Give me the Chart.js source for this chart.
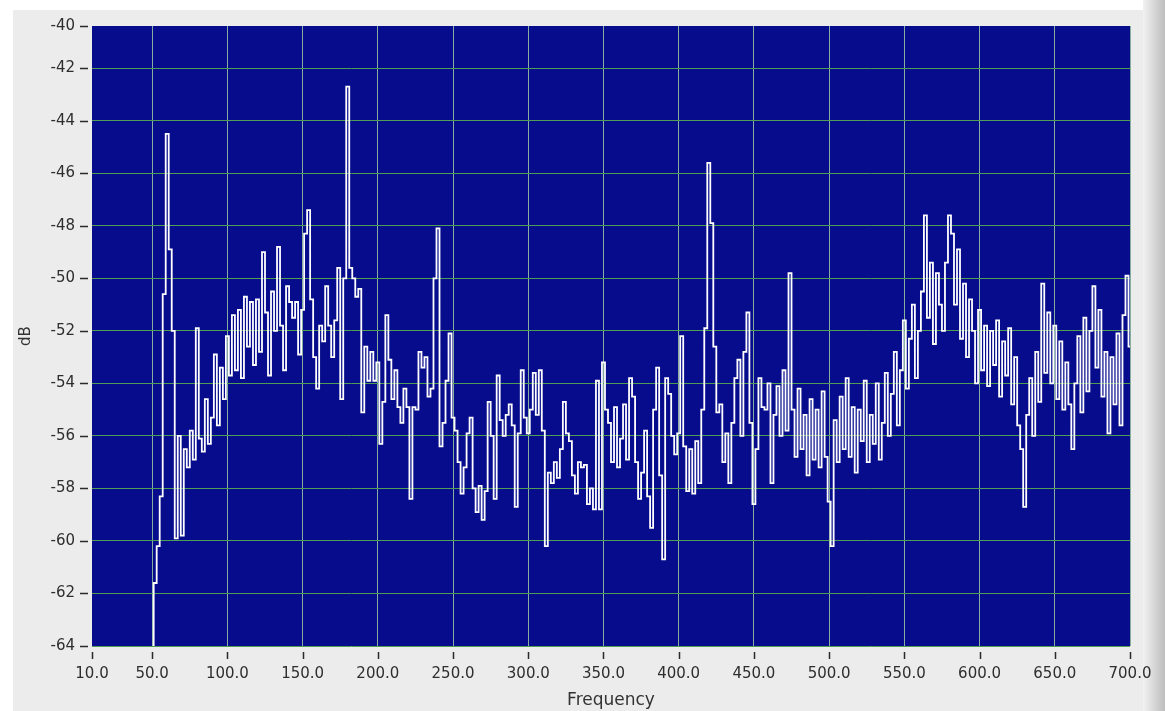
<!DOCTYPE html>
<html>
<head>
<meta charset="utf-8">
<script src="https://cdn.jsdelivr.net/npm/chart.js@4.4.1/dist/chart.umd.min.js"></script>
<style>
html,body{margin:0;padding:0;background:#ececec;overflow:hidden}
#wrap{position:relative;width:1165px;height:711px}
canvas{display:block}
</style>
</head>
<body>
<div id="wrap"><canvas id="c" width="1165" height="711"></canvas></div>
<script>
// Spectrum bins: first bin frequency and bin spacing (Hz)
const binStartHz = 50;
const binWidthHz = 2;

// Magnitude in dB, one value per bin, grouped in 100 Hz bands
const dB_50_98 = [
  -66.0, -61.6, -60.2, -58.3, -50.6, -44.5, -48.9, -52.0, -59.9, -56.0,
  -59.8, -56.5, -57.2, -55.8, -56.9, -51.9, -56.1, -56.6, -54.6, -56.3,
  -55.3, -52.9, -55.6, -53.4, -54.6
];
const dB_100_198 = [
  -52.2, -53.7, -51.4, -53.5, -51.2, -53.8, -50.7, -52.6, -50.9, -53.3,
  -50.8, -52.8, -49.0, -51.3, -53.7, -50.5, -52.0, -48.8, -51.8, -53.5,
  -50.3, -50.9, -51.5, -50.9, -52.9, -51.2, -48.3, -47.4, -50.8, -53.0,
  -54.2, -51.8, -52.4, -50.3, -51.8, -53.0, -51.6, -49.6, -54.6, -50.0,
  -42.7, -49.6, -50.0, -50.7, -50.4, -55.1, -52.6, -53.9, -52.8, -53.9
];
const dB_200_298 = [
  -53.2, -56.3, -54.7, -51.4, -53.1, -54.6, -53.5, -54.9, -55.5, -54.2,
  -54.9, -58.4, -54.9, -55.0, -52.8, -53.4, -53.0, -54.5, -54.2, -50.0,
  -48.1, -56.4, -55.5, -53.9, -52.1, -55.3, -55.8, -57.0, -58.2, -57.2,
  -55.9, -55.3, -58.0, -58.9, -57.9, -59.2, -58.1, -54.7, -56.0, -58.4,
  -53.7, -55.4, -56.0, -55.2, -54.8, -55.6, -58.7, -55.9, -53.5, -55.3
];
const dB_300_398 = [
  -55.9, -55.0, -53.6, -55.2, -53.5, -55.8, -60.2, -57.4, -57.8, -57.0,
  -57.6, -56.5, -54.7, -55.9, -56.2, -57.5, -58.2, -57.0, -57.2, -57.1,
  -58.6, -58.0, -58.8, -53.9, -58.8, -53.2, -55.0, -55.5, -57.0, -54.9,
  -57.2, -56.1, -54.8, -56.9, -53.8, -54.5, -57.0, -58.4, -57.4, -55.8,
  -58.3, -59.5, -55.0, -53.4, -57.5, -60.7, -53.8, -54.4, -56.0, -56.7
];
const dB_400_498 = [
  -55.9, -52.2, -56.4, -58.1, -56.5, -58.2, -56.2, -57.8, -55.0, -51.9,
  -45.6, -47.9, -52.6, -55.1, -54.8, -57.0, -55.9, -57.8, -55.5, -53.8,
  -53.1, -56.0, -52.8, -51.3, -55.5, -58.6, -56.5, -53.8, -54.9, -55.0,
  -54.0, -57.8, -55.2, -54.1, -56.0, -53.5, -55.8, -49.8, -55.0, -56.8,
  -54.2, -56.5, -55.2, -57.5, -54.6, -56.9, -55.0, -57.2, -54.3, -56.8
];
const dB_500_598 = [
  -58.5, -60.2, -55.4, -57.0, -54.5, -56.5, -53.8, -56.8, -54.9, -57.4,
  -55.0, -56.2, -53.9, -57.0, -55.2, -56.3, -54.0, -56.9, -55.5, -53.6,
  -56.0, -54.4, -52.8, -55.6, -53.5, -51.6, -54.2, -52.3, -51.0, -53.8,
  -52.0, -50.5, -47.6, -51.5, -49.4, -52.5, -49.8, -51.0, -52.0, -49.4,
  -47.6, -48.3, -51.0, -48.9, -52.3, -50.2, -53.0, -50.8, -52.0, -54.0
];
const dB_600_700 = [
  -51.2, -53.5, -51.8, -54.1, -52.0, -53.3, -51.6, -54.5, -52.4, -53.7,
  -51.9, -54.8, -53.0, -55.6, -56.5, -58.7, -55.2, -53.8, -56.0, -52.8,
  -54.7, -50.2, -53.6, -51.3, -54.0, -51.8, -54.6, -52.4, -55.0, -53.2,
  -54.8, -56.5, -54.0, -52.2, -55.1, -51.5, -54.3, -52.0, -50.3, -53.4,
  -51.2, -54.5, -52.8, -55.9, -53.0, -54.8, -52.1, -55.6, -51.4, -49.9,
  -52.6
];

// Axis ticks
const xTickValues = [10, 50, 100, 150, 200, 250, 300, 350, 400, 450, 500, 550, 600, 650, 700];
const yTickValues = [-64, -62, -60, -58, -56, -54, -52, -50, -48, -46, -44, -42];
const yAxisTop = -40.39;      // upper end of the dB scale
const yTopLabel = '-40';

const magnitudes = [].concat(dB_50_98, dB_100_198, dB_200_298, dB_300_398,
                             dB_400_498, dB_500_598, dB_600_700);
const points = magnitudes.map((v, i) => ({ x: binStartHz + i * binWidthHz, y: v }));

const PLOT_BG = '#070c8c';
const H_GRID = '#4f9c55';
const V_GRID = '#86ae9e';
const TEXT = '#2e2e2e';

// Window panel and plot background
const panelPlugin = {
  id: 'panel',
  beforeDraw(chart) {
    const { ctx, width, height, chartArea: a } = chart;
    ctx.save();
    ctx.fillStyle = '#ececec';
    ctx.fillRect(0, 0, width, height);
    ctx.fillStyle = '#ffffff';
    ctx.fillRect(0, 0, width, 10);
    ctx.fillRect(0, 0, 13, height);
    const g = ctx.createLinearGradient(1143, 0, width, 0);
    g.addColorStop(0, '#f2f2f2');
    g.addColorStop(1, '#bdbdbd');
    ctx.fillStyle = g;
    ctx.fillRect(1143, 0, width - 1143, height);
    ctx.fillStyle = PLOT_BG;
    ctx.fillRect(a.left, a.top, a.right - a.left, a.bottom - a.top);
    ctx.restore();
  },
  afterDraw(chart) {
    // detached tick marks next to the plot frame
    const { ctx, chartArea: a, scales } = chart;
    ctx.save();
    ctx.strokeStyle = '#2a2a2a';
    ctx.lineWidth = 1.5;
    scales.y.ticks.forEach(t => {
      const y = Math.round(scales.y.getPixelForValue(t.value)) + 0.5;
      ctx.beginPath();
      ctx.moveTo(a.left - 12, y);
      ctx.lineTo(a.left - 4, y);
      ctx.stroke();
    });
    scales.x.ticks.forEach(t => {
      const x = Math.round(scales.x.getPixelForValue(t.value)) + 0.5;
      ctx.beginPath();
      ctx.moveTo(x, a.bottom + 6);
      ctx.lineTo(x, a.bottom + 13);
      ctx.stroke();
    });
    ctx.restore();
  }
};

new Chart(document.getElementById('c'), {
  type: 'line',
  data: {
    datasets: [{
      data: points,
      borderColor: '#ffffff',
      borderWidth: 1.8,
      stepped: 'middle',
      pointRadius: 0,
      fill: false
    }]
  },
  options: {
    responsive: false,
    animation: false,
    devicePixelRatio: 1,
    layout: { padding: { top: 26, right: 35, left: 0, bottom: 0 } },
    plugins: { legend: { display: false }, tooltip: { enabled: false } },
    scales: {
      x: {
        type: 'linear',
        min: 10,
        max: 700,
        afterBuildTicks: s => { s.ticks = xTickValues.map(v => ({ value: v })); },
        afterFit: s => { s.height = 65; s.paddingLeft = 0; s.paddingRight = 0; },
        border: { display: false },
        grid: {
          drawTicks: false,
          lineWidth: 1,
          color: c => (c.tick && c.tick.value === 10) ? 'rgba(0,0,0,0)' : V_GRID
        },
        ticks: {
          autoSkip: false,
          maxRotation: 0,
          padding: 19,
          color: TEXT,
          font: { family: 'DejaVu Sans', size: 15 },
          callback: v => Number(v).toFixed(1)
        },
        title: {
          display: true,
          text: 'Frequency',
          color: '#333333',
          font: { family: 'DejaVu Sans', size: 17 },
          padding: { top: 0, bottom: 0 }
        }
      },
      y: {
        type: 'linear',
        min: -64,
        max: yAxisTop,
        afterBuildTicks: s => {
          s.ticks = yTickValues.map(v => ({ value: v })).concat([{ value: yAxisTop }]);
        },
        afterFit: s => { s.width = 92; s.paddingTop = 0; s.paddingBottom = 0; },
        border: { display: false },
        grid: {
          drawTicks: false,
          lineWidth: 1,
          color: c => (c.tick && c.tick.value === yAxisTop) ? 'rgba(0,0,0,0)' : H_GRID
        },
        ticks: {
          autoSkip: false,
          padding: 17,
          color: TEXT,
          font: { family: 'DejaVu Sans', size: 15 },
          callback: v => (v === yAxisTop ? yTopLabel : String(v))
        },
        title: {
          display: true,
          text: 'dB',
          color: '#333333',
          font: { family: 'DejaVu Sans', size: 15 },
          padding: { top: 17, bottom: 0 }
        }
      }
    }
  },
  plugins: [panelPlugin]
});
</script>
</body>
</html>
